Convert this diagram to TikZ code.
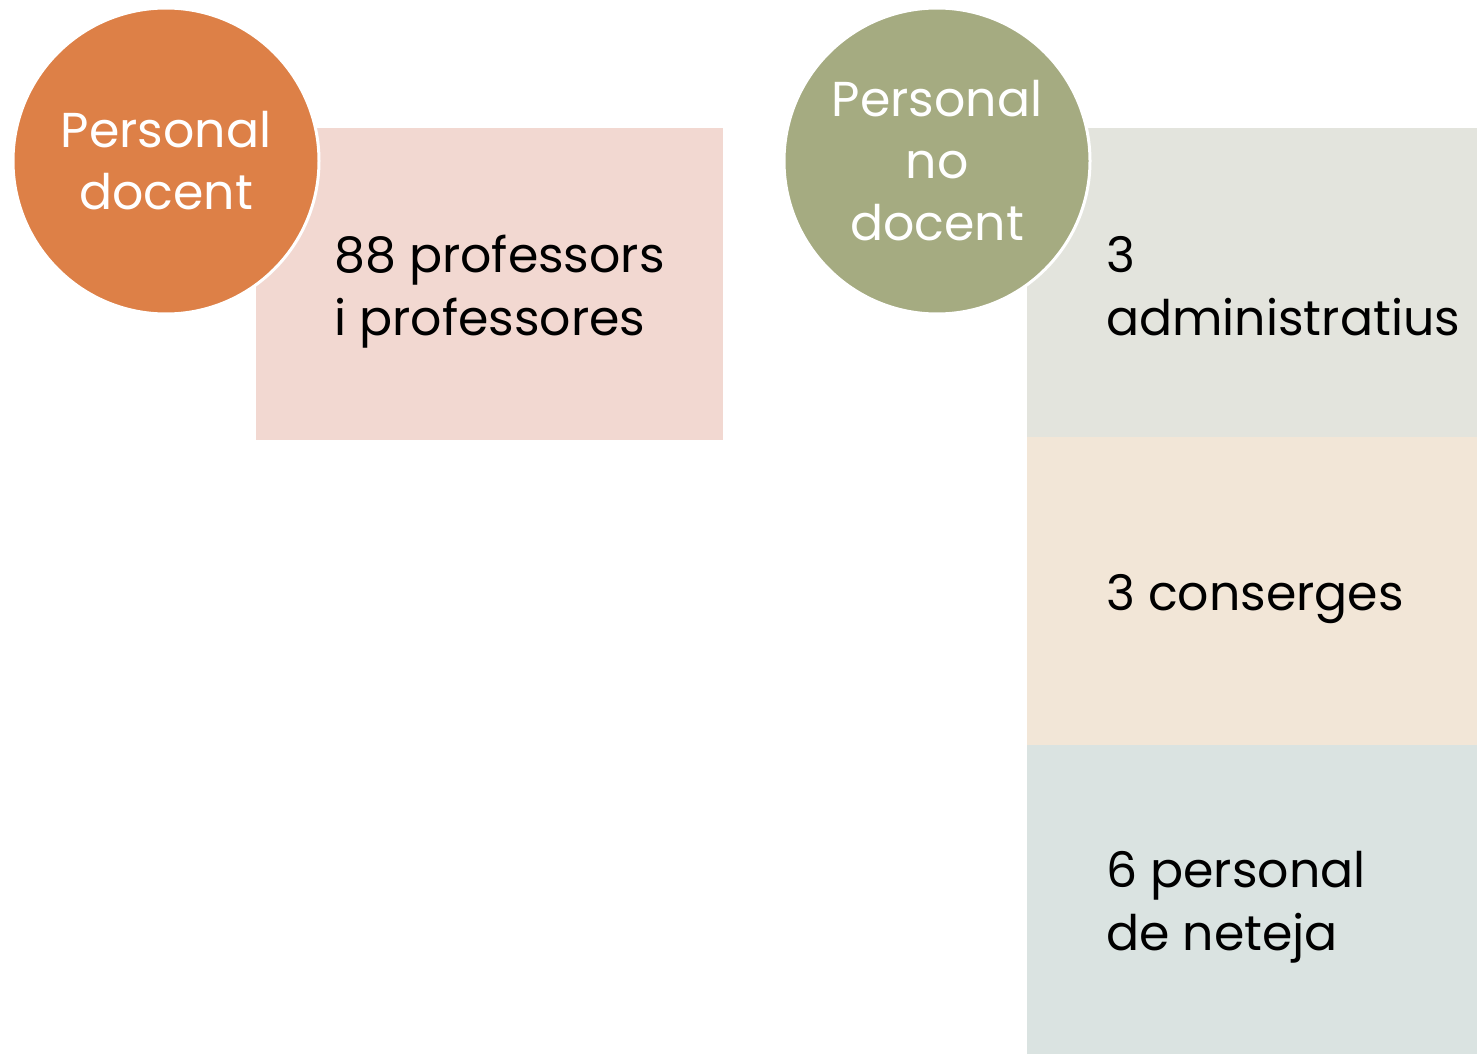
\documentclass[tikz,border=0pt]{standalone}
\usepackage{fontspec}
\setmainfont{Poppins}
\definecolor{cOrange}{HTML}{DD8047}
\definecolor{cOlive}{HTML}{A5AB81}
\definecolor{cPink}{HTML}{F2D8D1}
\definecolor{cGrey}{HTML}{E3E4DD}
\definecolor{cBeige}{HTML}{F2E6D7}
\definecolor{cBlue}{HTML}{DAE3E1}
\tikzset{
  bubble/.style={circle, draw=white, line width=3pt, minimum size=306pt, inner sep=0pt,
    text=white, align=center, font=\fontsize{49}{62}\selectfont},
  panel/.style={draw=none, inner sep=0pt, anchor=north west},
  label/.style={anchor=base west, align=left, inner sep=0pt, text=black,
    font=\fontsize{49}{63}\selectfont}
}
\begin{document}
\begin{tikzpicture}[x=1pt,y=-1pt]
\useasboundingbox (0,0) rectangle (1477,1054);
\fill[cPink] (256,128) rectangle (723,440);
\node[panel, minimum width=467pt, minimum height=312pt] (p1) at (256,128) {};
\fill[cGrey] (1027,128) rectangle (1477,437);
\fill[cBeige] (1027,437) rectangle (1477,745);
\fill[cBlue] (1027,745) rectangle (1477,1054);
\node[panel, minimum width=450pt, minimum height=309pt] (p2) at (1027,128) {};
\node[panel, minimum width=450pt, minimum height=308pt] (p3) at (1027,437) {};
\node[panel, minimum width=450pt, minimum height=309pt] (p4) at (1027,745) {};
\node[bubble, fill=cOrange] (c1) at (166,161) {Personal\\docent};
\node[bubble, fill=cOlive] (c2) at (937,161) {Personal\\no\\docent};
\node[label] (t1) at (334,335) {88 professors\\i professores};
\node[label] (t2) at (1106,335) {3\\administratius};
\node[label] (t3) at (1106,610) {3 conserges};
\node[label] (t4) at (1106,950) {6 personal\\de neteja};
\end{tikzpicture}
\end{document}
